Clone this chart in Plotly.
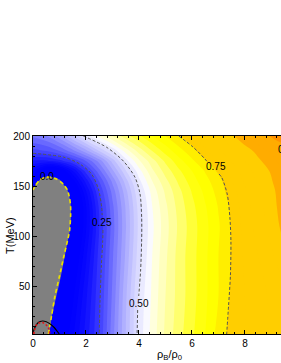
import numpy as np
import plotly.graph_objects as go

# ---------------- data ----------------
rho = [0.0, 0.5, 1.0, 1.5, 2.0, 2.5, 3.0, 3.5, 4.0, 4.5,
       5.0, 5.5, 6.0, 6.5, 7.0, 7.5, 8.0, 8.5, 9.0, 9.5]
temps = [2, 40, 80, 110, 130, 145, 155, 165, 175, 185, 200]

field = [
    [-0.074, -0.009, 0.056, 0.120, 0.185, 0.250, 0.340, 0.425, 0.510, 0.560, 0.605, 0.640, 0.670, 0.700, 0.735, 0.760, 0.775, 0.790, 0.805, 0.820],
    [-0.133, -0.058, 0.018, 0.094, 0.170, 0.245, 0.330, 0.420, 0.505, 0.555, 0.600, 0.635, 0.665, 0.695, 0.725, 0.755, 0.775, 0.790, 0.805, 0.820],
    [-0.217, -0.127, -0.036, 0.054, 0.145, 0.236, 0.321, 0.405, 0.490, 0.550, 0.595, 0.635, 0.665, 0.695, 0.725, 0.753, 0.780, 0.800, 0.820, 0.845],
    [-0.285, -0.183, -0.081, 0.020, 0.122, 0.224, 0.313, 0.398, 0.483, 0.545, 0.590, 0.630, 0.663, 0.693, 0.722, 0.753, 0.785, 0.810, 0.835, 0.860],
    [-0.300, -0.197, -0.090, 0.017, 0.124, 0.231, 0.319, 0.403, 0.487, 0.550, 0.595, 0.635, 0.668, 0.698, 0.727, 0.757, 0.790, 0.815, 0.840, 0.865],
    [-0.007, -0.070, -0.058, 0.046, 0.149, 0.252, 0.335, 0.417, 0.500, 0.560, 0.605, 0.643, 0.677, 0.707, 0.735, 0.765, 0.795, 0.820, 0.842, 0.870],
    [0.061, -0.040, -0.010, 0.088, 0.186, 0.277, 0.357, 0.438, 0.518, 0.575, 0.618, 0.655, 0.688, 0.717, 0.740, 0.775, 0.805, 0.830, 0.848, 0.875],
    [0.129, 0.050, 0.060, 0.148, 0.236, 0.316, 0.394, 0.472, 0.540, 0.595, 0.635, 0.670, 0.700, 0.727, 0.755, 0.785, 0.812, 0.835, 0.853, 0.880],
    [0.197, 0.195, 0.215, 0.250, 0.300, 0.360, 0.435, 0.515, 0.570, 0.615, 0.655, 0.690, 0.720, 0.747, 0.775, 0.802, 0.825, 0.845, 0.865, 0.890],
    [0.266, 0.275, 0.300, 0.340, 0.390, 0.450, 0.505, 0.560, 0.610, 0.650, 0.685, 0.715, 0.740, 0.770, 0.795, 0.820, 0.838, 0.858, 0.880, 0.900],
    [0.330, 0.350, 0.390, 0.450, 0.510, 0.560, 0.600, 0.640, 0.670, 0.700, 0.725, 0.748, 0.770, 0.795, 0.820, 0.845, 0.870, 0.900, 0.930, 0.960],
]

# boundary of the grey (unphysical) region, value 0.0
gray_rho = [0.0, 0.58, 0.70, 0.83, 1.00, 1.15, 1.30, 1.38, 1.42, 1.42, 1.38, 1.30, 1.14, 0.89, 0.65, 0.45, 0.25, 0.10, 0.0]
gray_T   = [2,   2,    20,   40,   60,   78,   95,   105,  120,  130,  138,  146,  152,  157,  158.8, 158.7, 156, 151, 146]

# dashed iso-lines (None = gap under the label)
c25_rho = [0.0, 1.14, 1.77, 2.21, 2.47, 2.59, 2.61, None, 2.64, 2.63, 2.58, 2.53, 2.50]
c25_T   = [182.7, 179, 172, 162, 147, 129, 121, None, 106, 95, 70, 35, 2]
c50_rho = [1.90, 2.78, 3.41, 3.85, 4.04, 4.10, 4.10, 4.06, 3.99, None, 3.95, 3.93]
c50_T   = [200, 188.7, 175, 158.7, 142, 118.7, 95, 65, 40, None, 26, 2]
c75_rho = [5.50, 6.05, 6.49, 6.58, None, 7.02, 7.12, 7.33, 7.43, 7.47, 7.45, 7.38, 7.31]
c75_T   = [200, 188.7, 177, 174, None, 162, 158.7, 142, 118.7, 95, 60, 30, 2]

# small curves near the origin
black_rho = [0.0, 0.08, 0.20, 0.36, 0.50, 0.65, 0.80, 0.92, 0.99]
black_T   = [3, 9, 13.5, 15, 14.3, 12, 8.5, 4.5, 2]
red_rho = [0.03, 0.06, 0.13, 0.25, 0.38, 0.50, 0.59, 0.63]
red_T   = [2, 6, 11, 13.3, 13.3, 11, 7.7, 2.7]

label_text = ["0.0", "0.25", "0.50", "0.75", "0.9"]
label_rho = [0.52, 2.62, 4.00, 6.90, 9.17]
label_T = [160, 114, 33, 170, 186.5]

# ---------------- colour map for the filled bands ----------------
START, END, STEP = 0.0, 1.0, 0.025
blue_v = [0.0, 0.1, 0.15, 0.2, 0.25, 0.3, 0.35, 0.4, 0.45, 0.5, 0.525, 0.55]
blue_c = [0, 0, 8, 25, 60, 95, 135, 168, 198, 225, 243, 255]
yel_v = [0.55, 0.575, 0.6, 0.625, 0.65, 0.675, 0.7]
yel_b = [235, 205, 175, 135, 85, 30, 0]


def band_color(v):
    if v < 0:
        return "rgb(128,128,128)"
    if v < 0.55:
        c = int(round(np.interp(v, blue_v, blue_c)))
        return f"rgb({c},{c},255)"
    if v < 0.725:
        b = int(round(np.interp(v, yel_v, yel_b)))
        return f"rgb(255,255,{b})"
    if v < 0.75:
        return "rgb(255,238,0)"
    if v < 0.85:
        return "rgb(255,206,0)"
    if v < 0.925:
        return "rgb(255,172,0)"
    return "rgb(255,145,0)"


nc = int(np.floor((END + STEP / 1000 - START) / STEP)) + 1
colorscale = []
for k in range(nc + 1):
    p = k / nc
    v = START + (k - 0.5) * STEP
    colorscale.append([p, band_color(v)])

FONT = "Liberation Sans, Arial, sans-serif"

fig = go.Figure()

fig.add_trace(go.Contour(
    x=rho, y=temps, z=field,
    autocontour=False,
    contours=dict(start=START, end=END, size=STEP, coloring="fill", showlines=False),
    line=dict(width=0, smoothing=1.0),
    colorscale=colorscale, showscale=False, hoverinfo="skip",
))

fig.add_trace(go.Scatter(
    x=gray_rho, y=gray_T, mode="lines", fill="toself",
    fillcolor="rgb(128,128,128)", line=dict(width=0, shape="spline", smoothing=0.6),
    hoverinfo="skip", showlegend=False,
))
fig.add_trace(go.Scatter(
    x=gray_rho[1:], y=gray_T[1:], mode="lines",
    line=dict(color="rgb(235,225,0)", width=1.6, dash="4px,3px", shape="spline", smoothing=0.6),
    hoverinfo="skip", showlegend=False,
))

for xs, ys in [(c25_rho, c25_T), (c50_rho, c50_T), (c75_rho, c75_T)]:
    fig.add_trace(go.Scatter(
        x=xs, y=ys, mode="lines", connectgaps=False,
        line=dict(color="rgb(85,85,85)", width=1, dash="3px,2px", shape="spline", smoothing=0.8),
        hoverinfo="skip", showlegend=False,
    ))

fig.add_trace(go.Scatter(
    x=black_rho, y=black_T, mode="lines",
    line=dict(color="black", width=1.2, shape="spline"),
    hoverinfo="skip", showlegend=False,
))
fig.add_trace(go.Scatter(
    x=red_rho, y=red_T, mode="lines",
    line=dict(color="rgb(225,20,20)", width=1.6, dash="2px,2px", shape="spline"),
    hoverinfo="skip", showlegend=False,
))

for t, xv, yv in zip(label_text, label_rho, label_T):
    fig.add_annotation(
        x=xv, y=yv, text=t, showarrow=False,
        xanchor="left" if t == "0.9" else "center", yanchor="middle",
        font=dict(family=FONT, size=10, color="black"),
    )

# axis titles
fig.add_annotation(
    xref="paper", yref="paper", x=0.552, y=-0.106, text="ρ<sub>B</sub>/ρ<sub>0</sub>",
    showarrow=False, xanchor="center", yanchor="middle",
    font=dict(family=FONT, size=11, color="black"),
)
fig.add_annotation(
    xref="paper", yref="paper", x=-0.093, y=0.5, text="T(MeV)", textangle=-90,
    showarrow=False, xanchor="center", yanchor="middle",
    font=dict(family=FONT, size=11, color="black"),
)

fig.update_xaxes(
    range=[0, 9.36], tick0=0, dtick=2, ticks="inside", ticklen=4, tickwidth=1,
    tickcolor="black", showline=True, linecolor="black", linewidth=1, mirror="ticks",
    showgrid=False, zeroline=False,
    minor=dict(tick0=0, dtick=0.4, ticks="inside", ticklen=2, tickcolor="black", showgrid=False),
    tickfont=dict(family=FONT, size=10, color="black"),
)
fig.update_yaxes(
    range=[2, 200], tick0=0, dtick=50, ticks="inside", ticklen=4, tickwidth=1,
    tickcolor="black", showline=True, linecolor="black", linewidth=1, mirror=False,
    showgrid=False, zeroline=False,
    minor=dict(tick0=0, dtick=10, ticks="inside", ticklen=2, tickcolor="black", showgrid=False),
    tickfont=dict(family=FONT, size=10, color="black"),
)

fig.update_layout(
    width=281, height=363,
    margin=dict(l=33, r=0, t=136, b=29),
    paper_bgcolor="white", plot_bgcolor="white",
    showlegend=False,
)

fig.write_html(
    "out.html",
    config={"displayModeBar": False},
    post_script="document.body.style.margin='0';document.body.style.overflow='hidden';",
)
